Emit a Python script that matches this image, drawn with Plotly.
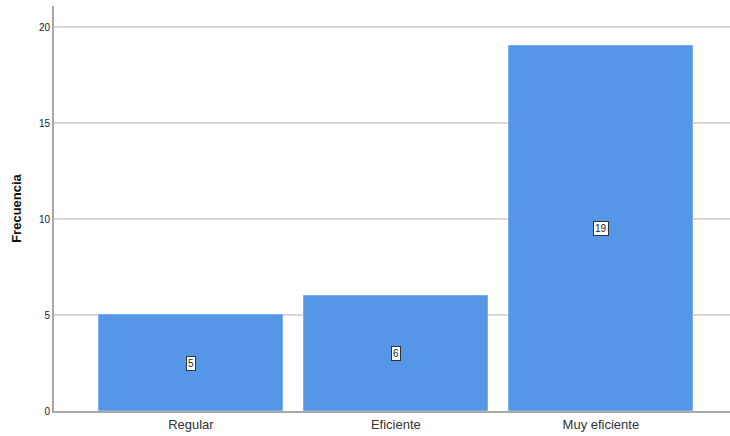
import plotly.graph_objects as go

categories = ["Regular", "Eficiente", "Muy eficiente"]
frequencies = [5, 6, 19]
y_ticks = [0, 5, 10, 15, 20]

fig = go.Figure()
fig.add_trace(go.Bar(
    x=list(range(len(categories))), y=frequencies, width=0.898,
    marker=dict(color="#5596e6", line=dict(color="#7aaeee", width=1)),
    hoverinfo="skip",
))
for i, v in enumerate(frequencies):
    fig.add_annotation(x=i, y=v / 2, text=str(v), showarrow=False,
                       font=dict(family="Liberation Sans, Arial", size=10, color="#222"),
                       bgcolor="white", bordercolor="#333", borderwidth=1, borderpad=1)

fig.update_layout(
    width=730, height=436,
    margin=dict(l=54, r=0, t=6, b=25),
    plot_bgcolor="white", paper_bgcolor="white",
    showlegend=False, bargap=0,
    font=dict(family="Liberation Sans, Arial", color="#222"),
)
fig.update_xaxes(
    tickmode="array", tickvals=list(range(len(categories))), ticktext=categories,
    range=[-0.668, 2.63], showgrid=False, zeroline=False,
    showline=True, linecolor="#a8a8a8", linewidth=2, ticks="",
    tickfont=dict(size=13, color="#333"),
)
fig.update_yaxes(
    range=[0, 21.1], tickvals=y_ticks, showgrid=True, gridcolor="#d9d9d9", gridwidth=1.5,
    zeroline=False, showline=True, linecolor="#a8a8a8", linewidth=2, ticks="",
    tickfont=dict(size=10, color="#222"),
    title=dict(text="<b>Frecuencia</b>", font=dict(size=13, color="#111"), standoff=14),
)
fig.write_html("out.html", config={"displayModeBar": False},
               post_script="document.body.style.margin='0';document.body.style.overflow='hidden';")
